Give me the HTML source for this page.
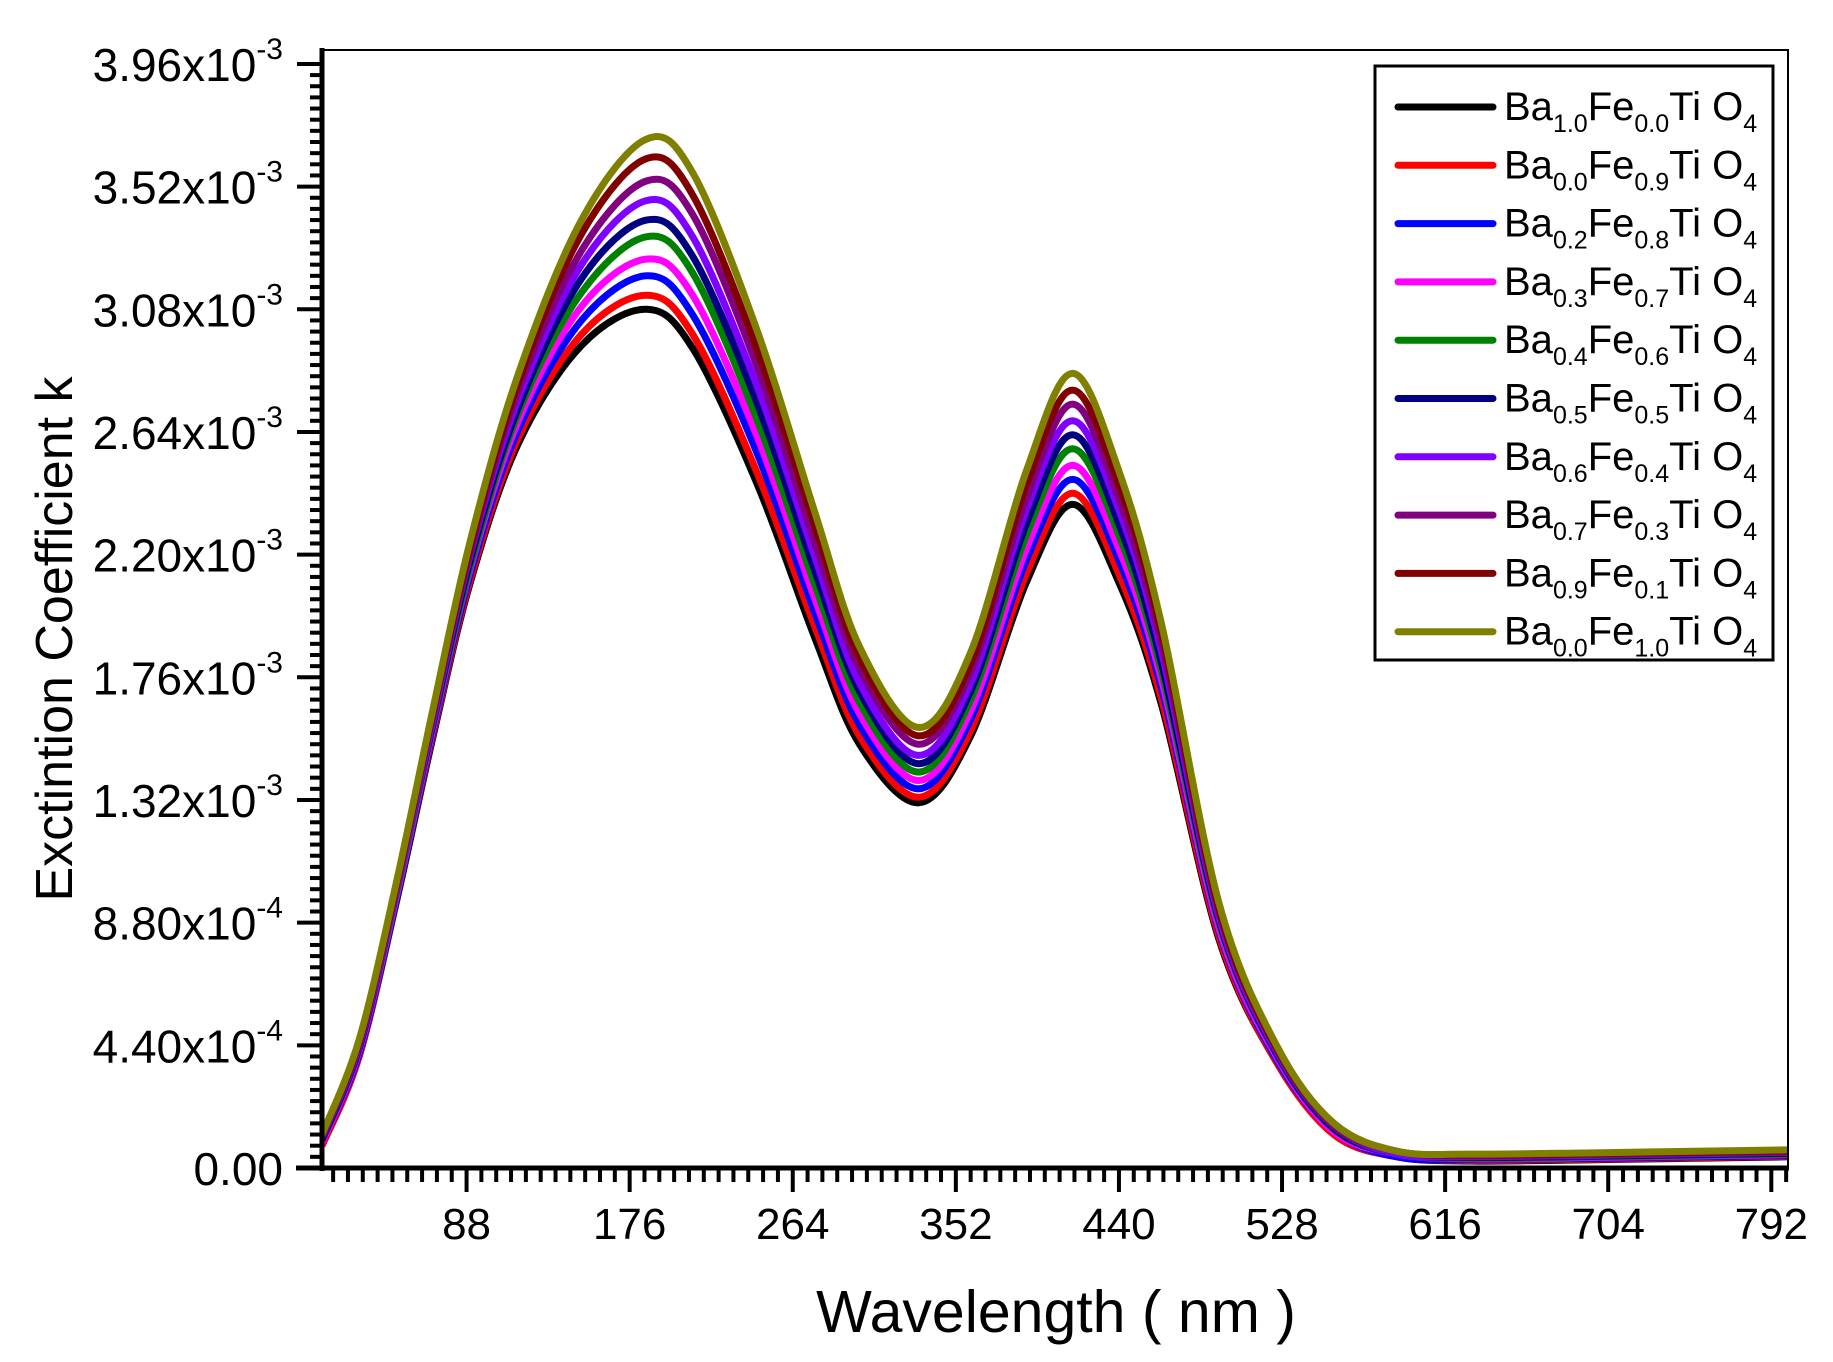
<!DOCTYPE html>
<html><head><meta charset="utf-8"><style>
html,body{margin:0;padding:0;background:#fff}
svg{display:block;font-family:"Liberation Sans",Arial,sans-serif}
</style></head><body>
<svg id="chart" width="1833" height="1362" viewBox="0 0 1833 1362" xmlns="http://www.w3.org/2000/svg">
<rect x="0" y="0" width="1833" height="1362" fill="#fff"/>
<g id="series"></g>
<g id="axes"></g>
<text x="0" y="0" font-size="52" text-anchor="middle" transform="translate(72,639) rotate(-90)">Exctintion Coefficient k</text>
<text x="1056" y="1332" font-size="59" text-anchor="middle">Wavelength ( nm )</text>
<g id="legend"></g>
</svg>
<script>
const NS="http://www.w3.org/2000/svg";
const wavelengths=[10,30,50,70,90,116,150,185,210,245,276,300,332,360,390,415,440,463,494,525,556,590,630,700,750,801];
const seriesBa10Fe00=[0.08,0.40,0.95,1.55,2.10,2.60,2.95,3.08,2.94,2.45,1.90,1.52,1.31,1.55,2.10,2.38,2.10,1.66,0.82,0.38,0.12,0.04,0.025,0.03,0.035,0.04];
const seriesBa00Fe09=[0.08,0.40,0.96,1.56,2.11,2.62,2.99,3.13,2.99,2.49,1.94,1.55,1.33,1.57,2.13,2.42,2.13,1.68,0.83,0.38,0.12,0.04,0.027,0.032,0.037,0.042];
const seriesBa02Fe08=[0.09,0.41,0.96,1.57,2.13,2.65,3.04,3.20,3.06,2.56,1.99,1.59,1.36,1.61,2.18,2.47,2.18,1.72,0.85,0.39,0.13,0.04,0.03,0.035,0.04,0.045];
const seriesBa03Fe07=[0.09,0.42,0.97,1.58,2.15,2.68,3.09,3.26,3.13,2.62,2.04,1.63,1.39,1.64,2.22,2.52,2.22,1.75,0.86,0.40,0.13,0.05,0.033,0.038,0.043,0.048];
const seriesBa04Fe06=[0.10,0.43,0.98,1.59,2.16,2.71,3.14,3.34,3.21,2.68,2.09,1.67,1.42,1.68,2.27,2.58,2.27,1.78,0.88,0.41,0.14,0.05,0.035,0.04,0.045,0.05];
const seriesBa05Fe05=[0.10,0.43,0.99,1.60,2.18,2.73,3.19,3.40,3.27,2.74,2.14,1.71,1.45,1.71,2.31,2.63,2.31,1.81,0.89,0.41,0.14,0.05,0.038,0.043,0.048,0.053];
const seriesBa06Fe04=[0.11,0.44,0.99,1.61,2.20,2.76,3.24,3.47,3.34,2.80,2.19,1.74,1.48,1.74,2.36,2.68,2.36,1.85,0.90,0.42,0.15,0.05,0.041,0.046,0.051,0.056];
const seriesBa07Fe03=[0.11,0.45,1.00,1.63,2.21,2.79,3.29,3.54,3.42,2.87,2.24,1.79,1.52,1.78,2.40,2.74,2.40,1.88,0.92,0.43,0.15,0.06,0.044,0.049,0.054,0.059];
const seriesBa09Fe01=[0.12,0.45,1.01,1.64,2.23,2.82,3.35,3.62,3.49,2.93,2.30,1.83,1.55,1.81,2.45,2.79,2.45,1.92,0.93,0.43,0.16,0.06,0.047,0.052,0.057,0.062];
const seriesBa00Fe10=[0.12,0.46,1.02,1.65,2.25,2.85,3.40,3.69,3.57,3.00,2.35,1.87,1.58,1.85,2.50,2.85,2.50,1.95,0.95,0.44,0.16,0.06,0.05,0.055,0.06,0.065];
const seriesColors=["#000000","#ff0000","#0000ff","#ff00ff","#008000","#000080","#8000ff","#800080","#800000","#808000"];
const legendBa=["1.0","0.0","0.2","0.3","0.4","0.5","0.6","0.7","0.9","0.0"];
const legendFe=["0.0","0.9","0.8","0.7","0.6","0.5","0.4","0.3","0.1","1.0"];
const yTickValues=[0,0.44,0.88,1.32,1.76,2.20,2.64,3.08,3.52,3.96];
const yTickLabels=["0.00","4.40x10|-4","8.80x10|-4","1.32x10|-3","1.76x10|-3","2.20x10|-3","2.64x10|-3","3.08x10|-3","3.52x10|-3","3.96x10|-3"];
const xTickValues=[88,176,264,352,440,528,616,704,792];
const allSeries=[seriesBa10Fe00,seriesBa00Fe09,seriesBa02Fe08,seriesBa03Fe07,seriesBa04Fe06,seriesBa05Fe05,seriesBa06Fe04,seriesBa07Fe03,seriesBa09Fe01,seriesBa00Fe10];

const L=322,R=1788,T=50,B=1168;
const X0=10,X1=801,Y0=0,Y1=4.01;
function xs(v){return L+(v-X0)/(X1-X0)*(R-L);}
function ys(v){return B-(v-Y0)/(Y1-Y0)*(B-T);}
function mk(tag,attrs,parent){const e=document.createElementNS(NS,tag);for(const k in attrs)e.setAttribute(k,attrs[k]);parent.appendChild(e);return e;}

const sg=document.getElementById('series');
const clip=mk('clipPath',{id:'pc'},document.getElementById('chart'));
mk('rect',{x:L,y:T,width:R-L,height:B-T},clip);
sg.setAttribute('clip-path','url(#pc)');
allSeries.forEach((s,i)=>{
  const p=wavelengths.map((w,j)=>[xs(w),ys(s[j])]);
  let d="M"+p[0][0].toFixed(1)+","+p[0][1].toFixed(1);
  for(let j=0;j<p.length-1;j++){
    const p0=p[Math.max(0,j-1)],p1=p[j],p2=p[j+1],p3=p[Math.min(p.length-1,j+2)];
    const c1=[p1[0]+(p2[0]-p0[0])/6,p1[1]+(p2[1]-p0[1])/6];
    const c2=[p2[0]-(p3[0]-p1[0])/6,p2[1]-(p3[1]-p1[1])/6];
    d+=" C"+c1[0].toFixed(1)+","+c1[1].toFixed(1)+" "+c2[0].toFixed(1)+","+c2[1].toFixed(1)+" "+p2[0].toFixed(1)+","+p2[1].toFixed(1);
  }
  const path=mk('path',{d:d,fill:'none',stroke:seriesColors[i],'stroke-width':7,'stroke-linejoin':'round'},sg);
  
  
});

const ax=document.getElementById('axes');
mk('rect',{x:L,y:T,width:R-L,height:B-T,fill:'none',stroke:'#000','stroke-width':2},ax);
const ya=mk('line',{x1:L,y1:T-2,x2:L,y2:B+3,stroke:'#000','stroke-width':5},ax);


const xa=mk('line',{x1:L-26,y1:B,x2:R+1,y2:B,stroke:'#000','stroke-width':5},ax);


for(let k=0;k<=99;k++){
  const v=k*0.04; if(v>Y1) break;
  const y=ys(v); const major=(k%11===0);
  mk('line',{x1:major?297:310,y1:y,x2:L,y2:y,stroke:'#000','stroke-width':4},ax);
}
for(let v=16;v<=X1;v+=8){
  const x=xs(v); const major=(v%88===0);
  mk('line',{x1:x,y1:B,x2:x,y2:major?1192:1182,stroke:'#000','stroke-width':4},ax);
}
yTickValues.forEach((v,i)=>{
  const parts=yTickLabels[i].split('|');
  const t=mk('text',{x:283,y:ys(v)+17,'font-size':46,'text-anchor':'end'},ax);
  
  
  t.appendChild(document.createTextNode(parts[0]));
  if(parts[1]){const s=mk('tspan',{dy:-22,'font-size':30},t);s.textContent=parts[1];}
});
xTickValues.forEach(v=>{
  const t=mk('text',{x:xs(v),y:1239,'font-size':44,'text-anchor':'middle'},ax);
  
  
  t.textContent=String(v);
});

const lg=document.getElementById('legend');
const lbox=mk('rect',{x:1375,y:66,width:398,height:594,fill:'#fff',stroke:'#000','stroke-width':3},lg);


seriesColors.forEach((c,i)=>{
  const y=107+i*58.3;
  const ln=mk('line',{x1:1398,y1:y,x2:1493,y2:y,stroke:c,'stroke-width':7,'stroke-linecap':'round'},lg);
  
  
  const t=mk('text',{x:1504,y:y+13,'font-size':40},lg);
  
  
  const seg=[["Ba",0],[legendBa[i],1],["Fe",0],[legendFe[i],1],["Ti O",0],["4",1]];
  let prevSub=false;
  seg.forEach(([s,sub])=>{
    const ts=mk('tspan',{},t);
    if(sub&&!prevSub) ts.setAttribute('dy',12);
    if(!sub&&prevSub) ts.setAttribute('dy',-12);
    if(sub) ts.setAttribute('font-size',25);
    ts.textContent=s; prevSub=!!sub;
  });
});
</script>
</body></html>
